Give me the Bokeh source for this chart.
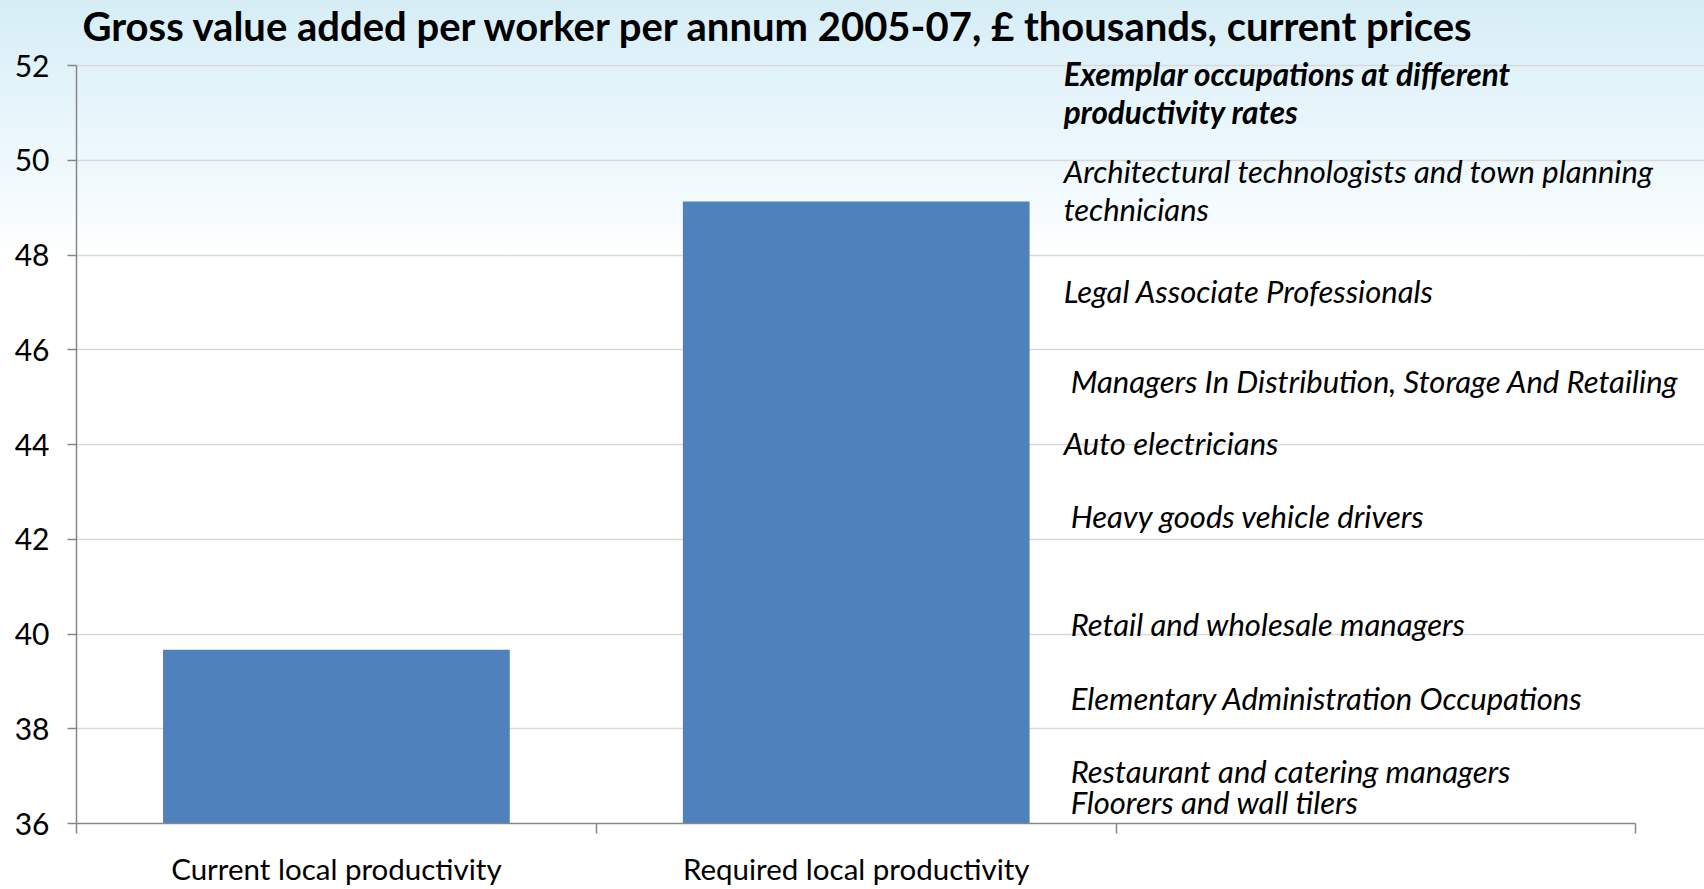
from bokeh.plotting import figure
from bokeh.models import ColumnDataSource, FixedTicker, LabelSet, Label, Range1d
from bokeh.core.properties import value
from bokeh.embed import file_html
from bokeh.resources import INLINE

# ---- data ----
title_text = "Gross value added per worker per annum 2005-07, \u00a3 thousands, current prices"
categories = ["Current local productivity", "Required local productivity"]
gva = [39.67, 49.13]
y_ticks = [36, 38, 40, 42, 44, 46, 48, 50, 52]

header_text = "Exemplar occupations at different\nproductivity rates"
header_gva = 51.42
occupations = [
    "Architectural technologists and town planning\ntechnicians",
    "Legal Associate Professionals",
    "Managers In Distribution, Storage And Retailing",
    "Auto electricians",
    "Heavy goods vehicle drivers",
    "Retail and wholesale managers",
    "Elementary Administration Occupations",
    "Restaurant and catering managers",
    "Floorers and wall tilers",
]
occupation_gva = [49.38, 47.25, 45.34, 44.03, 42.50, 40.22, 38.64, 37.10, 36.45]
indented = [False, False, True, False, True, True, True, True, True]

FONT = "Lato"
AXIS_GREY = "#868686"

n_slots = len(categories) + 1          # two bars + one slot holding the occupation notes
y_lo, y_hi = y_ticks[0], y_ticks[-1]

# frame spans the whole canvas width/top so notes & title are never clipped;
# axes and grid are bounded to the real chart area
p = figure(width=1704, height=889, output_backend="svg", toolbar_location=None,
           x_range=Range1d(0, 3.1318), y_range=Range1d(y_lo, 53.373),
           min_border_left=76, min_border_right=0, min_border_top=0, min_border_bottom=66)
p.styles = {"background": "linear-gradient(to bottom, #d6edf6 0px, #e4f4fa 90px, #f2fafd 190px, #ffffff 260px, #ffffff 100%)"}
p.background_fill_color = None
p.border_fill_color = None
p.outline_line_color = None

# bars
bar_src = ColumnDataSource(dict(x=[i + 0.5 for i in range(len(categories))], top=gva,
                                bottom=[y_lo] * len(gva)))
p.vbar(x="x", top="top", bottom="bottom", width=0.667, source=bar_src,
       fill_color="#4f81bd", line_color=None)

# y axis
p.yaxis.bounds = (y_lo, y_hi)
p.yaxis.ticker = FixedTicker(ticks=y_ticks, minor_ticks=[])
p.yaxis.axis_line_color = AXIS_GREY
p.yaxis.axis_line_width = 1.5
p.yaxis.major_tick_line_color = AXIS_GREY
p.yaxis.major_tick_line_width = 1.5
p.yaxis.major_tick_out = 9
p.yaxis.major_tick_in = 0
p.yaxis.major_label_standoff = 18
p.yaxis.major_label_text_font = FONT
p.yaxis.major_label_text_font_size = "30px"
p.yaxis.major_label_text_color = "#000000"

# x axis
p.xaxis.bounds = (0, n_slots)
p.xaxis.ticker = FixedTicker(ticks=[i + 0.5 for i in range(len(categories))],
                             minor_ticks=list(range(n_slots + 1)))
p.xaxis.major_label_overrides = {i + 0.5: c for i, c in enumerate(categories)}
p.xaxis.axis_line_color = AXIS_GREY
p.xaxis.axis_line_width = 1.5
p.xaxis.major_tick_line_color = None
p.xaxis.major_tick_out = 0
p.xaxis.major_tick_in = 0
p.xaxis.minor_tick_line_color = AXIS_GREY
p.xaxis.minor_tick_line_width = 1.5
p.xaxis.minor_tick_out = 10
p.xaxis.minor_tick_in = 0
p.xaxis.major_label_standoff = 17
p.xaxis.major_label_text_font = FONT
p.xaxis.major_label_text_font_size = "29.5px"
p.xaxis.major_label_text_color = "#000000"

p.xgrid.grid_line_color = None
p.ygrid.bounds = (0, n_slots)
p.ygrid.ticker = FixedTicker(ticks=y_ticks, minor_ticks=[])
p.ygrid.grid_line_color = "#d9d9d9"
p.ygrid.grid_line_width = 1.5

# title
p.add_layout(Label(x=0, y=y_hi, x_offset=6, y_offset=40, text=title_text,
                   text_font=FONT, text_font_style="bold", text_font_size="40px",
                   text_baseline="middle", text_align="left", text_color="#000000"))

# annotations
head_src = ColumnDataSource(dict(x=[1.899], y=[header_gva], text=[header_text]))
p.add_layout(LabelSet(x="x", y="y", text="text", source=head_src,
                      text_font=value(FONT), text_font_style="bold italic",
                      text_font_size="31.5px", text_baseline="middle", text_align="left",
                      text_line_height=1.0, text_color="#000000"))

occ_src = ColumnDataSource(dict(x=[1.899] * len(occupations), y=occupation_gva,
                                text=occupations,
                                xo=[7 if f else 0 for f in indented]))
p.add_layout(LabelSet(x="x", y="y", text="text", x_offset="xo", source=occ_src,
                      text_font=value(FONT), text_font_style="italic",
                      text_font_size="31px", text_baseline="middle", text_align="left",
                      text_line_height=1.0, text_color="#000000"))

open("out.html", "w").write(file_html(p, INLINE))
